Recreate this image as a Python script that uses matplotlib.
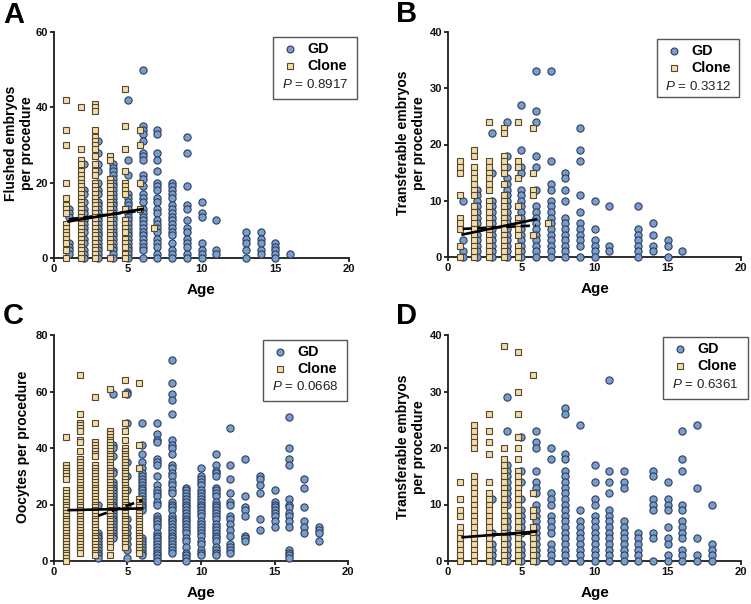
import matplotlib
matplotlib.use("Agg")
import matplotlib.pyplot as plt
from matplotlib.lines import Line2D
from matplotlib.patches import Rectangle

plt.rcParams['font.family'] = ['Liberation Sans', 'DejaVu Sans']
plt.rcParams['mathtext.fontset'] = 'custom'
plt.rcParams['mathtext.it'] = 'Liberation Sans:italic'

WIDTH, HEIGHT = 751, 604
GD_COLOR = '#7b9dca'
GD_EDGE = '#2c3e5e'
CLONE_COLOR = '#f3dcab'
CLONE_EDGE = '#54472c'
AXIS_COLOR = '#1c1c1c'
CLONE_SHIFT = 0.2

# panel A, flushed embryos
a_gd_ages = [1, 2, 3, 4, 5, 6, 7, 8, 9, 10, 11, 13, 14, 15, 16]
a_gd_values = [
    [13, 12, 11, 4, 3, 2, 1],
    [25, 18, 17, 15, 13, 12, 10, 9, 8, 7, 5, 4, 2, 1, 0],
    [31, 28, 25, 23, 20, 18, 17, 15, 14, 13, 12, 11, 10, 9, 8, 7, 6, 5, 4, 3, 2, 1, 0],
    [25, 24, 23, 22, 21, 20, 19, 18, 17, 16, 15, 14, 13, 12, 11, 10, 9, 8, 7, 6, 5, 4, 3, 2, 1, 0],
    [42, 26, 22, 17, 16, 15, 14, 13, 12, 11, 10, 9, 8, 7, 6, 5, 4, 3, 2, 1, 0],
    [50, 35, 34, 33, 31, 28, 27, 26, 22, 21, 19, 17, 16, 15, 13, 12, 11, 10, 9, 8, 7, 6, 5, 4, 3, 2, 0],
    [34, 33, 28, 26, 23, 20, 19, 18, 16, 15, 13, 12, 10, 9, 8, 7, 5, 4, 3, 1, 0],
    [20, 19, 18, 17, 16, 14, 13, 12, 11, 10, 9, 8, 7, 6, 4, 2, 1, 0],
    [32, 28, 19, 14, 13, 10, 8, 7, 5, 4, 3, 1, 0],
    [15, 12, 11, 4, 2, 1, 0],
    [10, 2, 1],
    [7, 5, 4, 2, 0],
    [7, 5, 4, 2, 1],
    [4, 3, 2, 1, 0],
    [1],
]
a_clone_ages = [1, 2, 3, 4, 5, 6, 7]
a_clone_values = [
    [42, 34, 30, 20, 16, 14, 13, 12, 9, 8, 7, 6, 5, 4, 2, 0],
    [40, 29, 26, 25, 23, 22, 21, 20, 19, 18, 17, 16, 15, 14, 13, 12, 11, 10, 9, 8, 7, 6, 5, 4, 3, 2, 1, 0],
    [41, 40, 39, 34, 32, 31, 30, 29, 27, 25, 23, 22, 20, 19, 18, 17, 16, 15, 14, 13, 12, 11, 10, 9, 8, 7, 6, 5, 4, 3, 2, 1, 0],
    [27, 26, 21, 20, 19, 18, 17, 16, 15, 14, 13, 12, 11, 10, 9, 8, 7, 6, 5, 4, 3, 0],
    [45, 35, 29, 23, 20, 19, 18, 17, 13, 10, 9, 8, 7, 5, 4, 3, 1, 0],
    [34, 30, 20, 13],
    [8],
]
a_solid = ([1, 6], [9.7, 13.0])
a_dashed = ([1, 6], [10.3, 12.6])

# panel B, transferable embryos
b_gd_ages = [1, 2, 3, 4, 5, 6, 7, 8, 9, 10, 11, 13, 14, 15, 16]
b_gd_values = [
    [10, 3, 1, 0],
    [12, 11, 10, 9, 8, 7, 6, 5, 4, 3, 2, 1, 0],
    [22, 15, 10, 9, 8, 7, 6, 5, 4, 3, 2, 1, 0],
    [24, 18, 16, 14, 13, 12, 11, 10, 9, 8, 7, 6, 5, 4, 3, 2, 1, 0],
    [27, 19, 16, 15, 12, 11, 10, 9, 8, 7, 6, 5, 4, 3, 2, 1, 0],
    [33, 26, 24, 18, 16, 12, 9, 8, 7, 6, 5, 4, 3, 2, 1, 0],
    [33, 17, 13, 12, 10, 9, 8, 7, 6, 5, 4, 3, 2, 1, 0],
    [15, 14, 12, 10, 7, 6, 5, 4, 3, 2, 1, 0],
    [23, 19, 17, 11, 8, 6, 5, 4, 3, 2, 0],
    [10, 5, 3, 2, 1, 0],
    [9, 2, 1],
    [9, 5, 4, 3, 2, 1, 0],
    [6, 4, 2, 1],
    [3, 2, 0],
    [1],
]
b_clone_ages = [1, 2, 3, 4, 5, 6, 7]
b_clone_values = [
    [17, 16, 15, 11, 7, 6, 5, 2, 0],
    [19, 18, 16, 15, 14, 13, 12, 11, 9, 8, 7, 6, 5, 4, 3, 2, 1, 0],
    [24, 17, 16, 15, 14, 13, 12, 10, 9, 8, 7, 6, 5, 4, 3, 2, 1, 0],
    [23, 22, 18, 17, 16, 15, 13, 11, 10, 9, 8, 7, 6, 5, 4, 3, 2, 1, 0],
    [24, 17, 16, 14, 9, 7, 6, 5, 4, 2, 1, 0],
    [23, 15, 12, 11, 4],
    [6],
]
b_solid = ([1, 6], [4.0, 6.7])
b_dashed = ([1, 6], [5.0, 5.6])

# panel C, oocytes
c_gd_ages = [3, 4, 5, 6, 7, 8, 9, 10, 11, 12, 13, 14, 15, 16, 17, 18]
c_gd_values = [
    [20, 10, 9, 8, 7, 6, 5, 4, 3, 2, 1],
    [59, 41, 40, 37, 32, 31, 28, 27, 26, 25, 24, 23, 22, 21, 20, 19, 18, 17, 16, 15, 14, 13, 12, 11, 10, 9, 8],
    [60, 59, 49, 35, 30, 25, 20, 15, 12, 10, 8, 6, 4, 1],
    [49, 41, 38, 35, 33, 31, 30, 29, 28, 27, 26, 25, 24, 23, 22, 21, 20, 19, 18, 8, 7, 6, 5, 4, 3, 2],
    [49, 45, 43, 42, 36, 35, 34, 30, 27, 25, 24, 23, 21, 20, 16, 15, 14, 13, 12, 10, 9, 8, 7, 6, 5, 4, 3, 2, 1, 0],
    [71, 63, 59, 57, 52, 43, 41, 40, 38, 34, 33, 31, 30, 28, 27, 25, 24, 21, 20, 19, 18, 16, 15, 14, 13, 12, 11, 10, 9, 8, 7, 6, 5, 4, 3],
    [26, 25, 24, 23, 22, 21, 20, 19, 18, 17, 16, 15, 14, 13, 12, 11, 10, 8, 7, 5, 3, 2, 1, 0],
    [33, 30, 29, 28, 27, 25, 24, 23, 22, 21, 20, 19, 18, 17, 16, 14, 13, 12, 11, 10, 9, 7, 6, 4, 3, 2],
    [38, 34, 32, 31, 30, 26, 25, 24, 23, 21, 20, 19, 18, 17, 16, 15, 13, 12, 11, 10, 9, 8, 7, 5, 4, 3, 2],
    [47, 34, 29, 24, 21, 20, 16, 15, 13, 11, 9, 6, 5, 4, 3],
    [36, 23, 19, 18, 16, 9, 8, 7],
    [30, 29, 27, 24, 15, 11],
    [25, 21, 20, 19, 18, 17, 16, 14, 12],
    [51, 40, 36, 34, 22, 20, 19, 17, 16, 14, 12, 4, 3, 2, 1],
    [29, 26, 19, 14, 12, 10],
    [12, 11, 10, 7],
]
c_clone_ages = [1, 2, 3, 4, 5, 6]
c_clone_values = [
    [44, 34, 33, 32, 31, 30, 29, 25, 24, 23, 22, 21, 20, 19, 18, 17, 16, 15, 14, 13, 12, 11, 10, 9, 8, 7, 6, 5, 4, 3, 2, 1, 0],
    [66, 52, 49, 48, 47, 46, 43, 42, 39, 36, 35, 34, 33, 32, 31, 30, 29, 28, 27, 26, 25, 24, 23, 22, 21, 20, 19, 18, 17, 16, 15, 14, 13, 12, 11, 10, 9, 8, 7, 6, 5, 4, 3],
    [58, 49, 42, 41, 40, 39, 38, 37, 34, 33, 32, 31, 30, 29, 28, 27, 26, 25, 24, 23, 22, 21, 20, 19, 18, 17, 16, 15, 14, 13, 12, 11, 10, 9, 8, 7, 6, 5, 4, 3, 2],
    [61, 46, 45, 44, 43, 42, 41, 40, 39, 38, 37, 36, 35, 34, 33, 32, 31, 30, 29, 28, 27, 26, 25, 24, 23, 22, 21, 20, 19, 18, 17, 16, 15, 14, 13, 12, 11, 10, 9, 8, 7, 6, 5, 2],
    [64, 59, 49, 46, 43, 40, 39, 38, 37, 36, 35, 34, 33, 32, 31, 30, 29, 28, 27, 26, 25, 24, 23, 22, 21, 20, 19, 18, 17, 16, 15, 14, 13, 12, 11, 10, 9, 8, 7, 6, 5],
    [63, 41, 33, 22, 21, 20, 19, 18, 17, 16, 15, 14, 13, 12, 11, 10, 9, 8, 7, 6, 5, 4, 3],
]
c_solid = ([1, 6], [18.0, 18.6])
c_dashed = ([3, 6], [16.0, 21.5])

# panel D, transferable embryos
d_gd_ages = [3, 4, 5, 6, 7, 8, 9, 10, 11, 12, 13, 14, 15, 16, 17, 18]
d_gd_values = [
    [11, 5, 3, 2, 1, 0],
    [29, 23, 17, 16, 15, 14, 13, 12, 11, 10, 8, 7, 6, 5, 4, 3, 2, 1, 0],
    [22, 16, 14, 11, 9, 8, 7, 6, 5, 3, 2, 1, 0],
    [23, 21, 20, 16, 14, 13, 12, 10, 9, 8, 7, 6, 5, 4, 3, 2, 1, 0],
    [20, 18, 12, 11, 10, 8, 7, 6, 5, 3, 2, 1, 0],
    [27, 26, 19, 18, 16, 15, 14, 13, 12, 11, 10, 9, 8, 7, 6, 5, 4, 3, 2, 1, 0],
    [24, 9, 7, 6, 5, 4, 3, 2, 1, 0],
    [17, 14, 11, 10, 8, 7, 6, 5, 4, 3, 2, 1, 0],
    [32, 16, 14, 12, 9, 8, 7, 6, 5, 4, 3, 2, 1, 0],
    [16, 14, 13, 7, 6, 5, 4, 3, 2, 1, 0],
    [5, 4, 3, 2, 1, 0],
    [16, 15, 11, 10, 9, 5, 4, 0],
    [14, 11, 10, 9, 6, 4, 3, 1, 0],
    [23, 18, 16, 10, 9, 7, 6, 5, 4, 2, 1, 0],
    [24, 13, 4, 1, 0],
    [10, 3, 2, 1, 0],
]
d_clone_ages = [1, 2, 3, 4, 5, 6]
d_clone_values = [
    [14, 11, 9, 8, 6, 5, 4, 3, 2, 1, 0],
    [24, 23, 22, 21, 20, 15, 14, 13, 12, 11, 10, 9, 8, 7, 6, 5, 4, 3, 2, 1, 0],
    [26, 23, 21, 19, 14, 12, 11, 10, 9, 8, 7, 6, 5, 4, 3, 2, 1, 0],
    [38, 20, 18, 17, 16, 15, 14, 13, 12, 11, 10, 9, 8, 7, 6, 5, 4, 3, 2, 1, 0],
    [37, 30, 26, 22, 20, 18, 16, 15, 14, 13, 12, 11, 10, 9, 8, 7, 6, 5, 4, 3, 2, 1, 0],
    [33, 12, 9, 8, 6, 5, 4, 3, 2, 1, 0],
]
d_solid = ([1, 6], [4.2, 5.2])
d_dashed = ([3, 6], [4.7, 4.9])

y_labels = ['Flushed embryos\nper procedure', 'Transferable embryos\nper procedure',
            'Oocytes per procedure', 'Transferable embryos\nper procedure']
p_values = ['0.8917', '0.3312', '0.0668', '0.6361']
panel_names = ['A', 'B', 'C', 'D']
y_maxes = [60, 40, 80, 40]
y_steps = [20, 10, 20, 10]
x_ticks = [0, 5, 10, 15, 20]


def fx(px):
    return px / WIDTH


def fy(py):
    return 1 - py / HEIGHT


def flatten(ages, values, shift=0.0):
    xs, ys = [], []
    for age, column in zip(ages, values):
        for v in column:
            xs.append(age - shift)
            ys.append(v)
    return xs, ys


def plotPanel(fig, box, name, gd, clone, solid, dashed, ylabel, yMax, yStep, pValue, layout):
    left, top, right, bottom = box
    ax = fig.add_axes([fx(left), fy(bottom), fx(right - left), fy(top) - fy(bottom)])
    ax.patch.set_alpha(0)
    ax.set_xlim(0, 20)
    ax.set_ylim(0, yMax)

    xs, ys = flatten(*gd)
    ax.plot(xs, ys, 'o', ms=5.2, mfc=GD_COLOR, mec=GD_EDGE, mew=0.8, clip_on=False, zorder=3)
    xs, ys = flatten(*clone, shift=CLONE_SHIFT)
    ax.plot(xs, ys, 's', ms=5.0, mfc=CLONE_COLOR, mec=CLONE_EDGE, mew=0.8, clip_on=False, zorder=4)

    ax.plot(solid[0], solid[1], '-', color='black', lw=1.9, zorder=5)
    ax.plot(dashed[0], dashed[1], '--', color='black', lw=1.9, dashes=(3.5, 2), zorder=5)

    for side in ['top', 'right']:
        ax.spines[side].set_visible(False)
    for side in ['left', 'bottom']:
        ax.spines[side].set_linewidth(1.3)
        ax.spines[side].set_color(AXIS_COLOR)
        ax.spines[side].set_zorder(2)
    ax.set_xticks(x_ticks)
    ax.set_yticks(list(range(0, yMax + 1, yStep)))
    ax.tick_params(width=1.3, length=2.8, color=AXIS_COLOR, pad=1.5, labelsize=8)
    for label in ax.get_xticklabels() + ax.get_yticklabels():
        label.set_fontweight('bold')
        label.set_color('#111111')

    # text and legend are placed in pixels
    fig.text(fx(layout['letter'][0]), fy(layout['letter'][1]), name, fontsize=21, fontweight='bold',
             ha='left', va='center')
    fig.text(fx(layout['age'][0]), fy(layout['age'][1]), 'Age', fontsize=11, fontweight='bold',
             ha='center', va='center')
    fig.text(fx(layout['ylabel'][0]), fy(layout['ylabel'][1]), ylabel, fontsize=10, fontweight='bold',
             rotation=90, ha='center', va='center', multialignment='center', linespacing=1.2)

    x0, y0, x1, y1 = layout['legend']
    fig.add_artist(Rectangle((fx(x0), fy(y1)), fx(x1 - x0), fy(y0) - fy(y1), transform=fig.transFigure,
                             fc='white', ec='#555555', lw=1.0, zorder=10))
    rowGd = y0 + 12
    rowClone = y0 + 29
    rowP = y0 + 47
    fig.add_artist(Line2D([fx(x0 + 17)], [fy(rowGd)], marker='o', ms=5.0, mfc=GD_COLOR, mec=GD_EDGE, mew=0.8,
                          transform=fig.transFigure, zorder=11))
    fig.add_artist(Line2D([fx(x0 + 17)], [fy(rowClone)], marker='s', ms=5.0, mfc=CLONE_COLOR, mec=CLONE_EDGE,
                          mew=0.8, transform=fig.transFigure, zorder=11))
    fig.text(fx(x0 + 34), fy(rowGd), 'GD', fontsize=10.3, fontweight='bold', va='center', zorder=12)
    fig.text(fx(x0 + 34), fy(rowClone), 'Clone', fontsize=10.3, fontweight='bold', va='center', zorder=12)
    fig.text(fx((x0 + x1) / 2), fy(rowP), '$\\mathit{P}$ = ' + pValue, fontsize=9.6, color='#222222',
             ha='center', va='center', zorder=12)


fig = plt.figure(figsize=(WIDTH / 100, HEIGHT / 100), dpi=100)

boxes = [(54, 32, 349, 258), (448, 32, 741, 257), (54, 335, 348, 561), (448, 335, 741, 561)]
layouts = [
    {'letter': (3, 15), 'age': (201, 290), 'ylabel': (19, 143), 'legend': (273, 37, 357, 99)},
    {'letter': (396, 14), 'age': (595, 289), 'ylabel': (411, 143), 'legend': (657, 39, 739, 97)},
    {'letter': (3, 316), 'age': (201, 593), 'ylabel': (23, 447), 'legend': (263, 340, 347, 401)},
    {'letter': (396, 316), 'age': (595, 593), 'ylabel': (411, 447), 'legend': (663, 337, 748, 399)},
]
gds = [(a_gd_ages, a_gd_values), (b_gd_ages, b_gd_values), (c_gd_ages, c_gd_values), (d_gd_ages, d_gd_values)]
clones = [(a_clone_ages, a_clone_values), (b_clone_ages, b_clone_values),
          (c_clone_ages, c_clone_values), (d_clone_ages, d_clone_values)]
solids = [a_solid, b_solid, c_solid, d_solid]
dasheds = [a_dashed, b_dashed, c_dashed, d_dashed]

for i in range(4):
    plotPanel(fig, boxes[i], panel_names[i], gds[i], clones[i], solids[i], dasheds[i], y_labels[i],
              y_maxes[i], y_steps[i], p_values[i], layouts[i])

fig.savefig('out.png', dpi=100)
